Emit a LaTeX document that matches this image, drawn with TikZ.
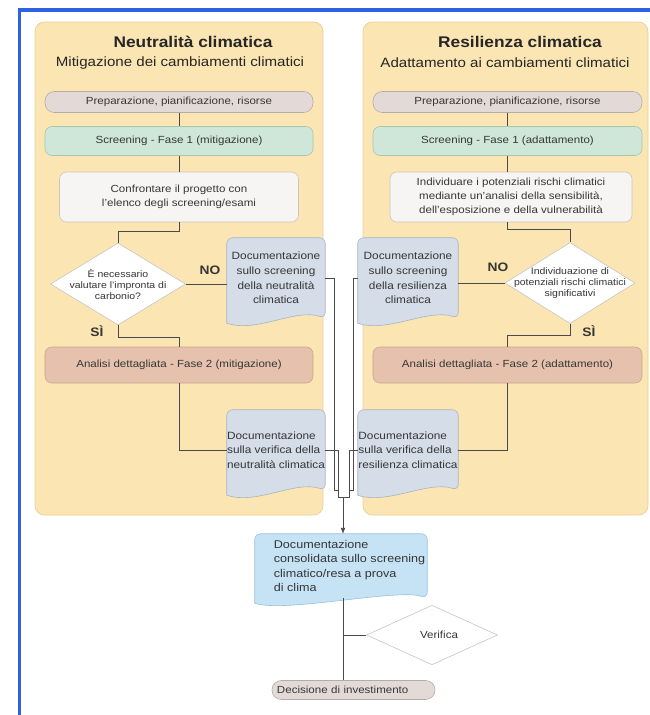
\documentclass[tikz,border=0pt]{standalone}
\usepackage{fontspec}
\setmainfont{Liberation Sans}[FakeStretch=1.12]
\usetikzlibrary{shapes.geometric,arrows.meta,calc,backgrounds}

\definecolor{panelfill}{HTML}{FBE6B3}
\definecolor{paneledge}{HTML}{E8CF98}
\definecolor{prepfill}{HTML}{E3DAD8}
\definecolor{prepedge}{HTML}{B4AAA8}
\definecolor{screenfill}{HTML}{CFE7D8}
\definecolor{screenedge}{HTML}{A6C6B2}
\definecolor{checkfill}{HTML}{F7F5F3}
\definecolor{checkedge}{HTML}{CEC4BA}
\definecolor{detailfill}{HTML}{E6C2AE}
\definecolor{detailedge}{HTML}{C9A38E}
\definecolor{docfill}{HTML}{D4DDE8}
\definecolor{docedge}{HTML}{A8B3C0}
\definecolor{consfill}{HTML}{C6E3F5}
\definecolor{consedge}{HTML}{98C0DA}
\definecolor{linegray}{HTML}{4A4A4A}
\definecolor{textgray}{HTML}{363636}
\definecolor{frameblue}{HTML}{2D63E2}
\definecolor{diamedge}{HTML}{C4C4C4}

% document shape: rounded top, wavy bottom (optional extension to the left)
\newcommand{\docshape}[4][0cm]{%
  \filldraw[fill=#3, draw=#4, line width=0.5pt]
    ($(#2.south west)+(-#1,-0.15cm)$) [rounded corners=5pt]
    -- ($(#2.north west)+(-#1,0cm)$) -- (#2.north east) -- (#2.south east) [sharp corners]
    .. controls +(-0.9cm,0.3cm) and +(0.9cm,-0.3cm) .. ($(#2.south west)+(-#1,-0.15cm)$) -- cycle;}

\begin{document}
\begin{tikzpicture}[x=0.03cm, y=-0.03cm,
    font=\fontsize{8.8}{12}\selectfont, text=textgray,
    flowbox/.style={rectangle, rounded corners=6pt, draw, line width=0.5pt, align=center, inner sep=0pt},
    prepbox/.style={flowbox, fill=prepfill, draw=prepedge, rounded corners=8pt, minimum height=0.63cm},
    screenbox/.style={flowbox, fill=screenfill, draw=screenedge, minimum height=0.87cm},
    checkbox/.style={flowbox, fill=checkfill, draw=checkedge, minimum height=1.5cm},
    detailbox/.style={flowbox, fill=detailfill, draw=detailedge, minimum height=1.08cm},
    question/.style={diamond, draw=diamedge, fill=white, line width=0.5pt, inner sep=0pt},
    asktext/.style={align=center, font=\fontsize{8}{9.4}\selectfont},
    doctext/.style={inner sep=0pt, minimum width=2.94cm, minimum height=2.4cm, font=\fontsize{9}{12.5}\selectfont},
    answer/.style={font=\fontsize{10.5}{12}\selectfont\bfseries},
    heading/.style={font=\fontsize{13.2}{15}\selectfont\bfseries, text=black!85},
    subheading/.style={font=\fontsize{11.5}{13}\selectfont, text=black!85},
    flow/.style={draw=linegray, line width=0.6pt},
    panel/.style={fill=panelfill, draw=paneledge, line width=0.6pt, rounded corners=8pt}
    ]

    \useasboundingbox (0,0) rectangle (650,715);

    % Panels behind everything
    \begin{scope}[on background layer]
        \filldraw[panel] (35,22) rectangle (323,515);
        \filldraw[panel] (363,22) rectangle (648,515);
    \end{scope}

    % Blue frame (top and left side)
    \draw[frameblue, line width=3.4pt] (19.5,715) -- (19.5,10) -- (650,10);

    % Left column: mitigation
    \node[heading] (ltitle) at (193,42) {Neutralità climatica};
    \node[subheading] (lsub) at (180,63) {Mitigazione dei cambiamenti climatici};
    \node[prepbox, minimum width=8.04cm] (lprep) at (179,102) {Preparazione, pianificazione, risorse};
    \node[screenbox, minimum width=8.04cm] (lscreen) at (179,141) {Screening - Fase 1 (mitigazione)};
    \node[checkbox, minimum width=7.17cm] (lcheck) at (179,197) {Confrontare il progetto con\\l'elenco degli screening/esami};
    \node[question, minimum width=4.05cm, minimum height=2.46cm] (lask) at (118,284) {};
    \node[asktext] (lasktext) at (lask) {È necessario\\valutare l'impronta di\\carbonio?};
    \node[detailbox, minimum width=8.04cm] (ldetail) at (179,365) {Analisi dettagliata - Fase 2 (mitigazione)};
    \node[doctext, align=center] (ldoc1) at (276,278) {Documentazione\\sullo screening\\della neutralità\\climatica};
    \node[doctext, align=left] (ldoc2) at (276,450) {Documentazione\\sulla verifica della\\neutralità climatica};

    % Right column: adaptation
    \node[heading] (rtitle) at (520,42) {Resilienza climatica};
    \node[subheading] (rsub) at (505,63) {Adattamento ai cambiamenti climatici};
    \node[prepbox, minimum width=8.07cm] (rprep) at (507.5,102) {Preparazione, pianificazione, risorse};
    \node[screenbox, minimum width=8.07cm] (rscreen) at (507.5,141) {Screening - Fase 1 (adattamento)};
    \node[checkbox, minimum width=7.26cm] (rcheck) at (511,197) {Individuare i potenziali rischi climatici\\mediante un'analisi della sensibilità,\\dell'esposizione e della vulnerabilità};
    \node[question, minimum width=3.9cm, minimum height=2.43cm] (rask) at (570,283) {};
    \node[asktext] (rasktext) at (rask) {Individuazione di\\potenziali rischi climatici\\significativi};
    \node[detailbox, minimum width=8.07cm] (rdetail) at (507.5,365) {Analisi dettagliata - Fase 2 (adattamento)};
    \node[doctext, align=center, minimum width=3cm] (rdoc1) at (408,278) {Documentazione\\sullo screening\\della resilienza\\climatica};
    \node[doctext, align=left, minimum width=3cm] (rdoc2) at (408,450) {Documentazione\\sulla verifica della\\resilienza climatica};

    % Bottom: consolidated result
    \node[doctext, align=left, minimum width=4.65cm, minimum height=1.92cm, font=\fontsize{9.6}{12.4}\selectfont] (cons) at (349.5,566) {Documentazione\\consolidata sullo screening\\climatico/resa a prova\\di clima};
    \node[question, minimum width=3.93cm, minimum height=1.65cm, font=\fontsize{8.8}{10}\selectfont] (verify) at (432,635) {\hspace*{12pt}Verifica};
    \node[prepbox, minimum height=0.57cm, text width=4.59cm, inner xsep=0.15cm, align=left] (decide) at (353.5,690) {Decisione di investimento};

    % Document shapes drawn under their texts
    \begin{scope}[on background layer]
        \docshape{ldoc1}{docfill}{docedge}
        \docshape{ldoc2}{docfill}{docedge}
        \docshape{rdoc1}{docfill}{docedge}
        \docshape{rdoc2}{docfill}{docedge}
        \docshape[0.51cm]{cons}{consfill}{consedge}
    \end{scope}

    % Connectors, left column
    \draw[flow] (lprep) -- (lscreen);
    \draw[flow] (lscreen) -- (lcheck);
    \draw[flow] (lcheck.south) -- ++(0,9) -| (lask.north);
    \draw[flow] (lask.east) -- (lask.east -| ldoc1.west);
    \draw[flow] (lask.south) -- ++(0,12) -| (ldetail.north);
    \draw[flow] (ldetail.south) |- (ldoc2.west);
    \node[answer] (lno) at (210,270) {NO};
    \node[answer] (lyes) at (97,331) {SÌ};

    % Connectors, right column
    \draw[flow] (rprep) -- (rscreen);
    \draw[flow] (rscreen) -- (rscreen |- rcheck.north);
    \draw[flow] (rscreen |- rcheck.south) -- ++(0,7) -| (rask.north);
    \draw[flow] (rask.west) -- (rask.west -| rdoc1.east);
    \draw[flow] (rask.south) -- ++(0,12) -| (rdetail.north);
    \draw[flow] (rdetail.south) |- (rdoc2.east);
    \node[answer] (rno) at (498,267) {NO};
    \node[answer] (ryes) at (589,331) {SÌ};

    % Collecting the four documents
    \coordinate (join) at (343,497);
    \coordinate (joinl) at (338,497);
    \coordinate (joinr) at (349,497);
    \draw[flow] (ldoc1.east) -| ($(joinl)+(-4,-7)$) -| (joinl) -- (join);
    \draw[flow] (ldoc2.east) -| (joinl);
    \draw[flow] (rdoc1.west) -| ($(joinr)+(4,-7)$) -| (joinr) -- (join);
    \draw[flow] (rdoc2.west) -| (joinr);
    \draw[flow, -{Latex[length=5pt,width=4pt]}] (join) -- (join |- cons.north);

    % Verification and decision
    \draw[flow] (join |- cons.south) -- (join |- decide.north);
    \draw[flow] (verify.west) -- (verify.west -| join);

\end{tikzpicture}
\end{document}
